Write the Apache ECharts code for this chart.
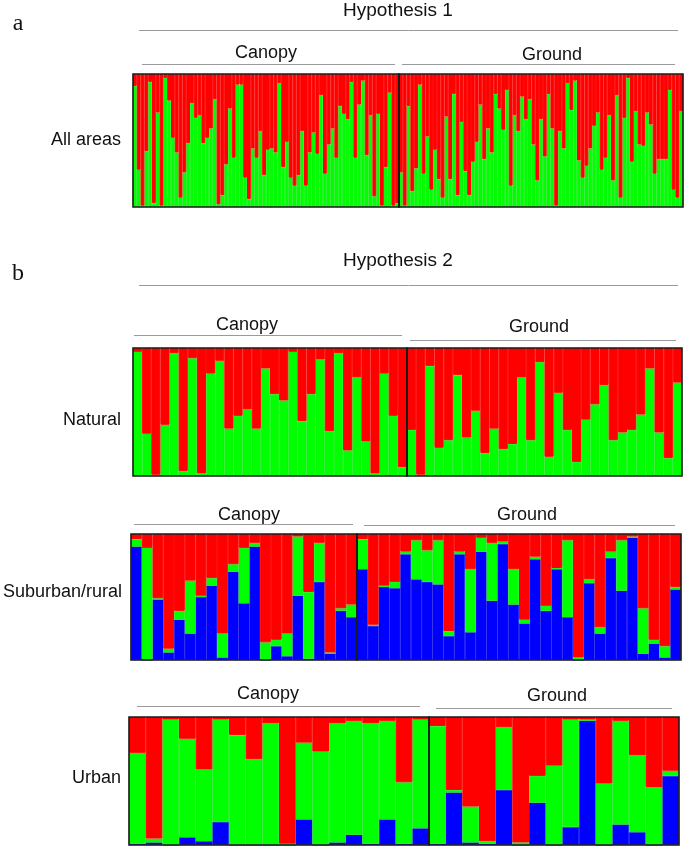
<!DOCTYPE html>
<html>
<head>
<meta charset="utf-8">
<script src="https://cdn.jsdelivr.net/npm/echarts@6/dist/echarts.min.js"></script>
<style>html,body{margin:0;padding:0;background:#fff}#c{width:685px;height:848px}</style>
</head>
<body>
<div id="c"></div>
<script>
// ---- Data: membership proportions (blue, green, red) per individual ----
// Hypothesis 1, All areas (K=2)
var allCanopyGreen = [0.91,0.28,0.01,0.42,0.94,0.03,0.71,0.01,0.97,0.80,0.52,0.41,0.07,0.26,0.48,0.78,0.67,0.69,0.48,0.52,0.59,0.81,0.02,0.09,0.32,0.74,0.37,0.92,0.92,0.22,0.06,0.44,0.37,0.57,0.24,0.43,0.44,0.41,0.93,0.30,0.49,0.22,0.16,0.24,0.57,0.16,0.41,0.56,0.40,0.84,0.25,0.47,0.59,0.37,0.76,0.70,0.66,0.94,0.37,0.77,0.95,0.39,0.69,0.08,0.70,0.01,0.30,0.86,0.01,0.03];
var allCanopyRed = [0.09,0.72,0.99,0.58,0.06,0.97,0.29,0.99,0.03,0.20,0.48,0.59,0.93,0.74,0.52,0.22,0.33,0.31,0.52,0.48,0.41,0.19,0.98,0.91,0.68,0.26,0.63,0.08,0.08,0.78,0.94,0.56,0.63,0.43,0.76,0.57,0.56,0.59,0.07,0.70,0.51,0.78,0.84,0.76,0.43,0.84,0.59,0.44,0.60,0.16,0.75,0.53,0.41,0.63,0.24,0.30,0.34,0.06,0.63,0.23,0.05,0.61,0.31,0.92,0.30,0.99,0.70,0.14,0.99,0.97];
var allGroundGreen = [0.26,0.01,0.76,0.12,0.29,0.92,0.25,0.53,0.13,0.43,0.21,0.07,0.68,0.21,0.85,0.09,0.64,0.27,0.09,0.34,0.49,0.77,0.36,0.59,0.41,0.85,0.74,0.58,0.88,0.16,0.69,0.57,0.83,0.66,0.81,0.47,0.20,0.66,0.38,0.85,0.59,0.01,0.57,0.44,0.93,0.73,0.95,0.35,0.22,0.31,0.44,0.61,0.71,0.28,0.37,0.69,0.20,0.84,0.07,0.67,0.97,0.34,0.72,0.47,0.46,0.71,0.62,0.25,0.36,0.36,0.36,0.88,0.13,0.07,0.72];
var allGroundRed = [0.74,0.99,0.24,0.88,0.71,0.08,0.75,0.47,0.87,0.57,0.79,0.93,0.32,0.79,0.15,0.91,0.36,0.73,0.91,0.66,0.51,0.23,0.64,0.41,0.59,0.15,0.26,0.42,0.12,0.84,0.31,0.43,0.17,0.34,0.19,0.53,0.80,0.34,0.62,0.15,0.41,0.99,0.43,0.56,0.07,0.27,0.05,0.65,0.78,0.69,0.56,0.39,0.29,0.72,0.63,0.31,0.80,0.16,0.93,0.33,0.03,0.66,0.28,0.53,0.54,0.29,0.38,0.75,0.64,0.64,0.64,0.12,0.87,0.93,0.28];
// Hypothesis 2, Natural (K=2)
var natCanopyGreen = [0.97,0.33,0.01,0.40,0.96,0.04,0.92,0.02,0.80,0.90,0.37,0.47,0.52,0.37,0.84,0.64,0.59,0.97,0.43,0.64,0.91,0.35,0.96,0.20,0.77,0.27,0.02,0.80,0.47,0.07];
var natCanopyRed = [0.03,0.67,0.99,0.60,0.04,0.96,0.08,0.98,0.20,0.10,0.63,0.53,0.48,0.63,0.16,0.36,0.41,0.03,0.57,0.36,0.09,0.65,0.04,0.80,0.23,0.73,0.98,0.20,0.53,0.93];
var natGroundGreen = [0.36,0.01,0.86,0.22,0.28,0.79,0.30,0.51,0.18,0.37,0.21,0.25,0.77,0.28,0.89,0.15,0.65,0.36,0.11,0.44,0.56,0.71,0.28,0.34,0.36,0.48,0.84,0.34,0.14,0.73];
var natGroundRed = [0.64,0.99,0.14,0.78,0.72,0.21,0.70,0.49,0.82,0.63,0.79,0.75,0.23,0.72,0.11,0.85,0.35,0.64,0.89,0.56,0.44,0.29,0.72,0.66,0.64,0.52,0.16,0.66,0.86,0.27];
// Hypothesis 2, Suburban/rural (K=3)
var subCanopyBlue = [0.90,0,0.48,0.06,0.32,0.21,0.50,0.59,0.02,0.70,0.45,0.90,0,0.11,0.03,0.51,0.01,0.62,0.05,0.39,0.34];
var subCanopyGreen = [0.06,0.89,0.01,0.03,0.07,0.42,0.01,0.06,0.19,0.06,0.44,0.03,0.14,0.05,0.18,0.47,0.53,0.31,0.01,0.02,0.10];
var subCanopyRed = [0.04,0.11,0.51,0.91,0.61,0.37,0.49,0.35,0.79,0.24,0.11,0.07,0.86,0.84,0.79,0.02,0.46,0.07,0.94,0.59,0.56];
var subGroundBlue = [0.72,0.27,0.58,0.57,0.84,0.64,0.62,0.60,0.19,0.84,0.22,0.86,0.47,0.92,0.44,0.29,0.80,0.39,0.72,0.34,0,0.61,0.21,0.81,0.55,0.97,0.05,0.13,0.02,0.56];
var subGroundGreen = [0.24,0.01,0.01,0.05,0.02,0.31,0.25,0.35,0.04,0.02,0.50,0.11,0.46,0.02,0.28,0.03,0.02,0.04,0.01,0.61,0.02,0.03,0.05,0.05,0.40,0.01,0.36,0.03,0.09,0.02];
var subGroundRed = [0.04,0.72,0.41,0.38,0.14,0.05,0.13,0.05,0.77,0.14,0.28,0.03,0.07,0.06,0.28,0.68,0.18,0.57,0.27,0.05,0.98,0.36,0.74,0.14,0.05,0.02,0.59,0.84,0.89,0.42];
// Hypothesis 2, Urban (K=3)
var urbCanopyBlue = [0.01,0.02,0,0.06,0.03,0.18,0,0,0,0,0.20,0,0.02,0.08,0.01,0.20,0.01,0.13];
var urbCanopyGreen = [0.71,0.03,0.98,0.77,0.56,0.80,0.86,0.67,0.95,0.01,0.60,0.73,0.93,0.89,0.94,0.77,0.48,0.85];
var urbCanopyRed = [0.28,0.95,0.02,0.17,0.41,0.02,0.14,0.33,0.05,0.99,0.20,0.27,0.05,0.03,0.05,0.03,0.51,0.02];
var urbGroundBlue = [0.01,0.41,0.02,0.01,0.43,0,0.33,0,0.14,0.97,0,0.16,0.10,0,0.54];
var urbGroundGreen = [0.92,0.02,0.28,0.02,0.49,0.02,0.21,0.62,0.84,0.01,0.48,0.81,0.60,0.45,0.04];
var urbGroundRed = [0.07,0.57,0.70,0.97,0.08,0.98,0.46,0.38,0.02,0.02,0.52,0.03,0.30,0.55,0.42];

// ---- Layout ----
var panels = [
  {top:74,  height:133, parts:[{left:133,width:266,blue:null,green:allCanopyGreen,red:allCanopyRed},{left:399,width:284,blue:null,green:allGroundGreen,red:allGroundRed}]},
  {top:348, height:128, parts:[{left:133,width:274,blue:null,green:natCanopyGreen,red:natCanopyRed},{left:407,width:275,blue:null,green:natGroundGreen,red:natGroundRed}]},
  {top:534, height:126, parts:[{left:131,width:226,blue:subCanopyBlue,green:subCanopyGreen,red:subCanopyRed},{left:357,width:324,blue:subGroundBlue,green:subGroundGreen,red:subGroundRed}]},
  {top:717, height:128, parts:[{left:129,width:300,blue:urbCanopyBlue,green:urbCanopyGreen,red:urbCanopyRed},{left:429,width:250,blue:urbGroundBlue,green:urbGroundGreen,red:urbGroundRed}]}
];
var BLUE='#0000FF', GREEN='#00FF00', RED='#FF0000';
var grids=[], xAxes=[], yAxes=[], series=[];
panels.forEach(function(p){
  p.parts.forEach(function(part){
    var gi = grids.length;
    grids.push({left:part.left, top:p.top, width:part.width, height:p.height, show:true, z:10,
      backgroundColor:'transparent', borderColor:'#1a1a1a', borderWidth:1.6, containLabel:false});
    var n = part.green.length, cats=[];
    for (var i=0;i<n;i++) cats.push(String(i+1));
    xAxes.push({type:'category', gridIndex:gi, data:cats, show:false, boundaryGap:true});
    yAxes.push({type:'value', gridIndex:gi, min:0, max:1, show:false});
    var st='s'+gi;
    var comps = [];
    if (part.blue) comps.push([part.blue, BLUE, '#0000e6', 0.5]);
    comps.push([part.green, GREEN, '#10e010', 0.5]);
    comps.push([part.red, RED, RED, 1]);
    comps.forEach(function(c){
      series.push({type:'bar', xAxisIndex:gi, yAxisIndex:gi, stack:st, data:c[0],
        barCategoryGap:'0%', barGap:'0%', silent:true, animation:false,
        itemStyle:{color:c[1], borderColor:c[2], borderWidth:c[3]}});
    });
  });
});

var FONT = '"Liberation Sans", Arial, sans-serif';
function txt(x,y,s,align,size,family){
  return {type:'text', x:x, y:y, z:20, style:{text:s, x:0, y:0, align:align||'center', verticalAlign:'middle',
    font:(size||18)+'px '+(family||FONT), fill:'#111'}};
}
function ln(x1,x2,y,color){
  return {type:'line', z:20, shape:{x1:x1,y1:y,x2:x2,y2:y}, style:{stroke:color||'#9a9a9a', lineWidth:1}};
}
var SERIF = '"Liberation Serif", "Times New Roman", serif';
var graphics = [
  txt(18,24,'a','center',24,SERIF),
  txt(398,11,'Hypothesis 1','center',19), ln(139,678,30.5),
  txt(266,53,'Canopy'), ln(142,395,64.5),
  txt(552,55,'Ground'), ln(402,675,64.5),
  txt(121,140,'All areas','right'),
  txt(18,274,'b','center',24,SERIF),
  txt(398,261,'Hypothesis 2','center',19), ln(139,678,285.5),
  txt(247,325,'Canopy'), ln(134,402,335.5),
  txt(539,327,'Ground'), ln(410,676,340.5),
  txt(121,420,'Natural','right'),
  txt(249,515,'Canopy'), ln(134,353,524.5),
  txt(527,515,'Ground'), ln(364,675,525.5),
  txt(122,592,'Suburban/rural','right'),
  txt(268,694,'Canopy'), ln(137,420,706.5),
  txt(557,696,'Ground'), ln(436,672,708.5),
  txt(121,778,'Urban','right')
];

var chart = echarts.init(document.getElementById('c'), null, {renderer:'canvas'});
chart.setOption({animation:false, backgroundColor:'#fff', grid:grids, xAxis:xAxes, yAxis:yAxes, series:series, graphic:graphics});
</script>
</body>
</html>
